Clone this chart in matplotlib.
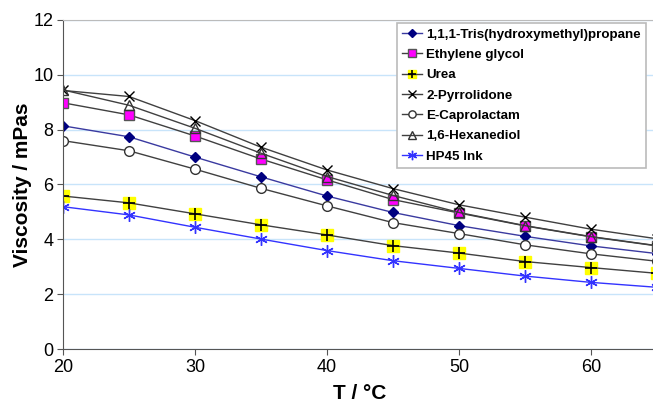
import matplotlib.pyplot as plt
from matplotlib.legend_handler import HandlerTuple

plt.rcParams['font.family'] = ['Liberation Sans', 'DejaVu Sans']

temps = [20, 25, 30, 35, 40, 45, 50, 55, 60, 65]

tris = [8.14, 7.74, 7.00, 6.28, 5.58, 4.98, 4.50, 4.11, 3.76, 3.48]
ethylene = [8.98, 8.54, 7.77, 6.93, 6.17, 5.45, 4.96, 4.49, 4.09, 3.76]
urea = [5.58, 5.33, 4.93, 4.53, 4.16, 3.77, 3.50, 3.19, 2.97, 2.76]
pyrrolidone = [9.43, 9.21, 8.33, 7.36, 6.53, 5.85, 5.26, 4.81, 4.37, 4.02]
caprolactam = [7.60, 7.23, 6.56, 5.86, 5.22, 4.61, 4.21, 3.80, 3.47, 3.20]
hexanediol = [9.45, 8.89, 8.05, 7.14, 6.29, 5.60, 4.98, 4.50, 4.10, 3.77]
hp45 = [5.19, 4.89, 4.44, 4.01, 3.59, 3.22, 2.94, 2.66, 2.43, 2.25]

labels = ["1,1,1-Tris(hydroxymethyl)propane", "Ethylene glycol", "Urea",
          "2-Pyrrolidone", "E-Caprolactam", "1,6-Hexanediol", "HP45 Ink"]

fig = plt.figure(figsize=(6.53, 4.03), dpi=100)
ax = fig.add_axes([63 / 653, 1 - 349 / 403, 594 / 653, 329 / 403])

grey = '#404040'
h_tris, = ax.plot(temps, tris, color='#3a3aa0', lw=1, marker='D', ms=5,
                  mfc='#000080', mec='#000080')
h_eg, = ax.plot(temps, ethylene, color=grey, lw=1, marker='s', ms=7,
                mfc='#ff00ff', mec='#555555')
urea_sq, = ax.plot(temps, urea, ls='none', marker='s', ms=8, mfc='#ffff00', mec='#ffff00')
urea_ln, = ax.plot(temps, urea, color=grey, lw=1, marker='+', ms=8, mec='black', mew=1.2)
h_pyr, = ax.plot(temps, pyrrolidone, color=grey, lw=1, marker='x', ms=7, mec='black')
h_cap, = ax.plot(temps, caprolactam, color=grey, lw=1, marker='o', ms=7,
                 mfc='white', mec='#333333')
h_hex, = ax.plot(temps, hexanediol, color=grey, lw=1, marker='^', ms=7,
                 mfc='none', mec='#333333')
h_hp, = ax.plot(temps, hp45, color='#3333ff', lw=1, marker=(6, 2, 0), ms=9,
                mec='#3333ff', mew=1)

ax.set_xlim(20, 65)
ax.set_ylim(0, 12)
ax.set_xticks([20, 30, 40, 50, 60])
ax.set_yticks([0, 2, 4, 6, 8, 10, 12])
ax.grid(axis='y', color='#c8e4fa', lw=1)
ax.set_axisbelow(True)

for s in ['left', 'bottom']:
    ax.spines[s].set_color('#555555')
ax.spines['top'].set_color('#bbbbbb')
ax.spines['right'].set_visible(False)
ax.tick_params(axis='both', direction='out', length=4, color='#555555',
               labelsize=13, pad=3)

ax.set_xlabel("T / °C", fontsize=15, fontweight='bold', labelpad=6)
ax.set_ylabel("Viscosity / mPas", fontsize=15, fontweight='bold', labelpad=1)

handles = [h_tris, h_eg, (urea_sq, urea_ln), h_pyr, h_cap, h_hex, h_hp]
leg = ax.legend(handles, labels, loc='upper left', bbox_to_anchor=(334 / 594, 1.0 - 3 / 329),
                handler_map={tuple: HandlerTuple(ndivide=1)},
                prop={'weight': 'bold', 'size': 9.6}, frameon=True, fancybox=False,
                edgecolor='#bbbbbb', framealpha=1, handlelength=1.5, handletextpad=0.3,
                labelspacing=0.6, borderpad=0.4, borderaxespad=0, markerscale=0.75)
leg.get_frame().set_linewidth(1.2)

fig.savefig('out.png', dpi=100)
